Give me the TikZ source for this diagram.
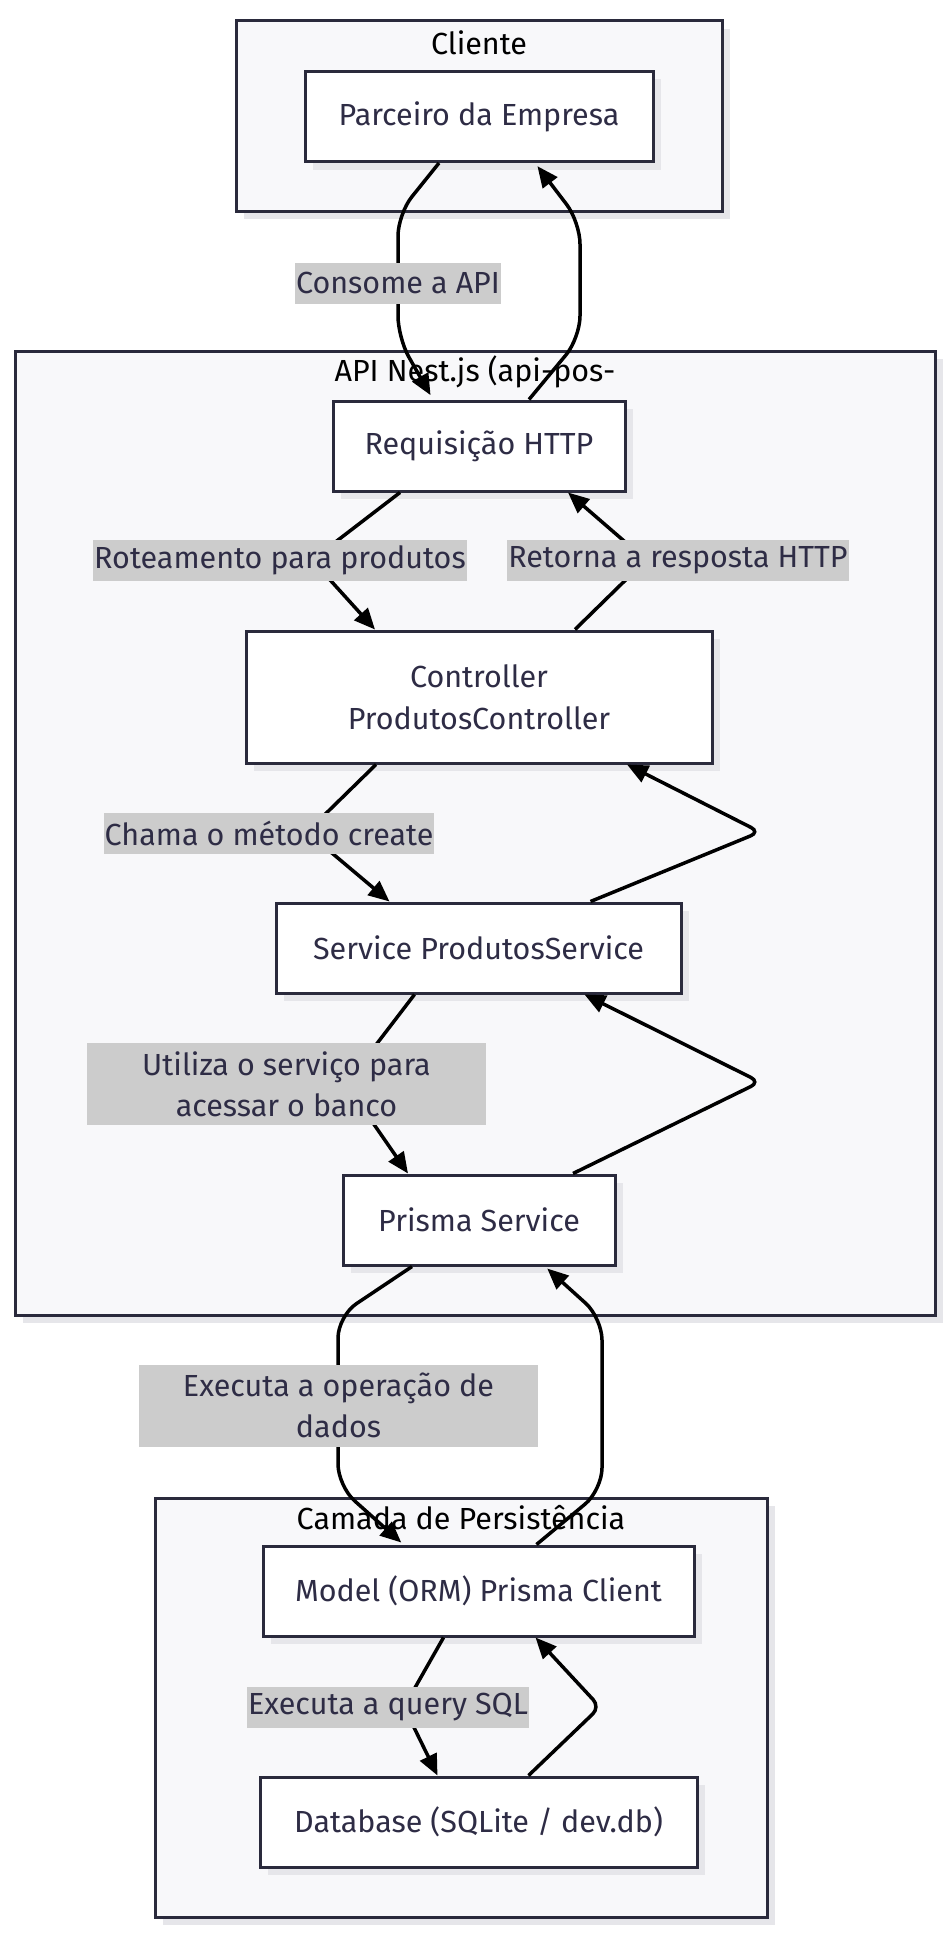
\documentclass[tikz,border=0pt]{standalone}
\usepackage{fontspec}
\setmainfont{Fira Sans}
\usetikzlibrary{arrows.meta,shadows}
\definecolor{txt}{HTML}{2E2C45}
\definecolor{bord}{HTML}{2A2A3C}
\definecolor{clfill}{HTML}{F8F8FA}
\definecolor{shade}{HTML}{E6E6EA}
\definecolor{lblbg}{HTML}{CCCCCC}
\begin{document}
\begin{tikzpicture}[x=1pt,y=-1pt,
  myshadow/.style={general shadow={shadow xshift=8pt,shadow yshift=-8pt,fill=shade}},
  cluster/.style={draw=bord,line width=3pt,fill=clfill,myshadow,inner sep=0pt},
  cltitle/.style={text=black,font=\fontsize{30.5}{36}\selectfont,inner sep=0pt},
  box/.style={draw=bord,line width=3pt,fill=white,myshadow,text=txt,inner sep=0pt,
    minimum height=90pt,align=center,font=\fontsize{30.5}{42}\selectfont},
  lbl/.style={fill=lblbg,text=txt,inner xsep=1pt,inner ysep=0pt,minimum height=41pt,
    align=center,font=\fontsize{30.5}{41}\selectfont},
  edge/.style={draw=black,line width=3.5pt,rounded corners=22pt,
    -{Triangle[length=21pt,width=18pt]}},
  sedge/.style={edge,rounded corners=10pt}]
\useasboundingbox (0,0) rectangle (951,1940);
% clusters
\node[cluster,minimum width=486pt,minimum height=190pt] (cliente) at (479,116) {};
\node[cluster,minimum width=920pt,minimum height=964pt] (api) at (475,833) {};
\node[cluster,minimum width=612pt,minimum height=419pt] (camada) at (461,1707.5) {};
\node[cltitle] (tcliente) at (479,43) {Cliente};
\node[cltitle] (tapi) at (475,372) {API Nest.js (api-pos-};
\node[cltitle] (tcamada) at (461,1518) {Camada de Persistência};
% nodes
\node[box,minimum width=348pt] (parceiro) at (479,116.5) {Parceiro da Empresa};
\node[box,minimum width=292pt] (req) at (479,446) {Requisição HTTP};
\node[box,minimum width=466pt,minimum height=132pt] (ctrl) at (479,697) {Controller\\ProdutosController};
\node[box,minimum width=405pt] (svc) at (478.5,948) {Service ProdutosService};
\node[box,minimum width=272pt] (prisma) at (479,1220) {Prisma Service};
\node[box,minimum width=431pt] (model) at (478.5,1591) {Model (ORM) Prisma Client};
\node[box,minimum width=437pt] (db) at (478.5,1822) {Database (SQLite / dev.db)};
% edges
\draw[edge,shorten >=5pt] ([xshift=-40pt]parceiro.south) -- (398,214) -- (398,338) -- ([xshift=-46pt]req.north);
\draw[edge,shorten >=4pt] ([xshift=50pt]req.north) -- (580,338) -- (580,222) -- ([xshift=56pt]parceiro.south);
\draw[sedge] ([xshift=-79pt]req.south) -- (312,560) -- ([xshift=-104pt]ctrl.north);
\draw[sedge] ([xshift=96pt]ctrl.north) -- (646,560) -- ([xshift=89pt]req.south);
\draw[sedge] ([xshift=-103pt]ctrl.south) -- (307,832) -- ([xshift=-89pt]svc.north);
\draw[sedge] ([xshift=112pt]svc.north) -- (760,832) -- ([xshift=148pt]ctrl.south);
\draw[sedge] ([xshift=-64pt]svc.south) -- (346,1084) -- ([xshift=-71pt]prisma.north);
\draw[sedge] ([xshift=94pt]prisma.north) -- (760,1082) -- ([xshift=106pt]svc.south);
\draw[edge,shorten >=3pt] ([xshift=-67pt]prisma.south) -- (338,1316) -- (338,1486) -- ([xshift=-75pt]model.north);
\draw[edge,shorten >=3pt] ([xshift=58pt]model.north) -- (602,1490) -- (602,1318) -- ([xshift=66pt]prisma.south);
\draw[sedge] ([xshift=-35pt]model.south) -- (404,1707) -- ([xshift=-41pt]db.north);
\draw[sedge] ([xshift=50pt]db.north) -- (600,1707) -- ([xshift=57pt]model.south);
% edge labels
\node[lbl] (l1) at (398,283) {\raisebox{-2pt}{Consome a API}};
\node[lbl] (l2) at (280,560) {\raisebox{-2pt}{Roteamento para produtos}};
\node[lbl] (l3) at (678,560) {\raisebox{-2pt}{Retorna a resposta HTTP}};
\node[lbl] (l4) at (269,833) {\raisebox{-2pt}{Chama o método create}};
\node[lbl,minimum width=399pt,minimum height=82pt] (l5) at (286.5,1084) {Utiliza o serviço para\\acessar o banco};
\node[lbl,minimum width=399pt,minimum height=82pt] (l6) at (338.5,1405.5) {Executa a operação de\\dados};
\node[lbl] (l7) at (388,1707) {\raisebox{-2pt}{Executa a query SQL}};
\end{tikzpicture}
\end{document}
